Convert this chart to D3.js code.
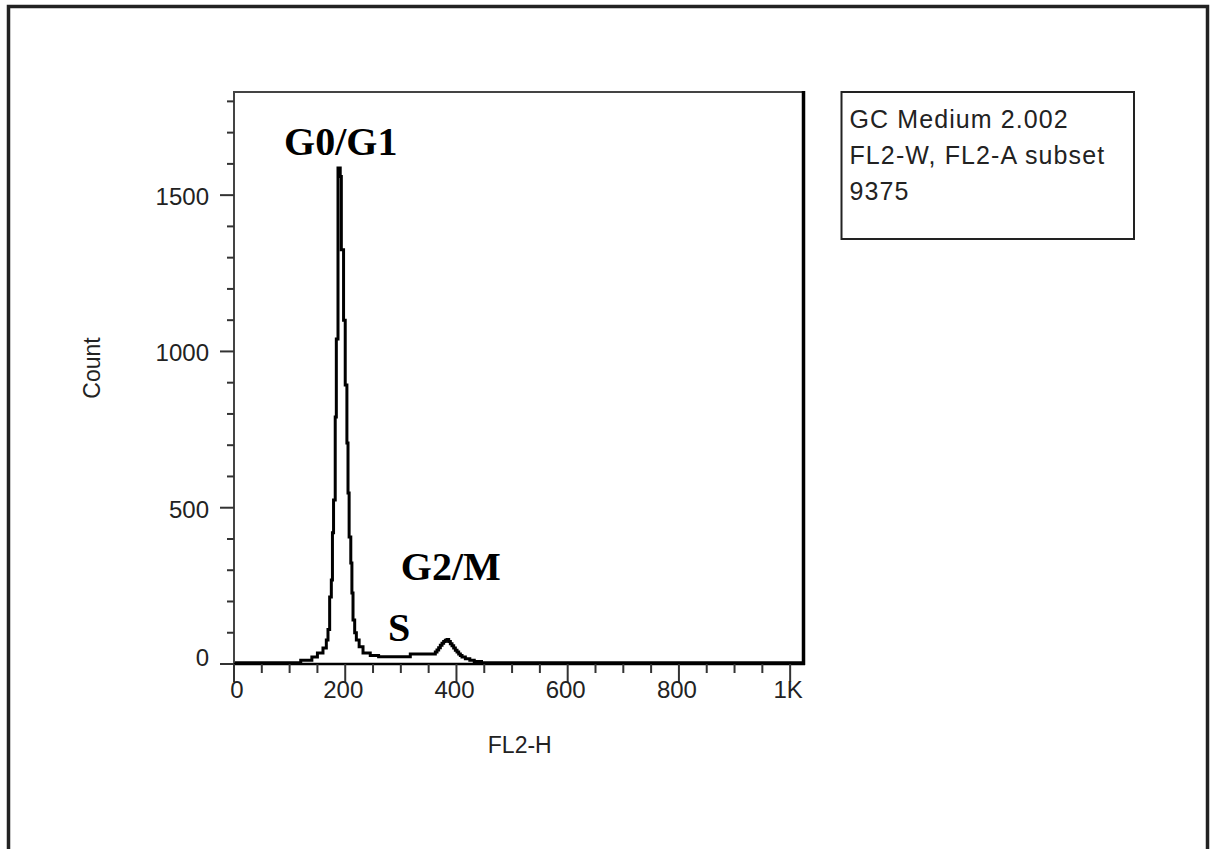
<!DOCTYPE html>
<html>
<head>
<meta charset="utf-8">
<script src="https://cdn.jsdelivr.net/npm/d3@7"></script>
<style>
  html, body { margin: 0; padding: 0; background: #fff; }
  svg { display: block; }
</style>
</head>
<body>
<svg id="chart" width="1214" height="849"></svg>
<script>
// ---- data ----
const channels = [0, 60, 120, 140, 150, 160, 166, 169, 172, 175, 177, 179, 182, 184, 187, 191, 193, 197, 200, 203, 205, 207, 210, 212, 214, 217, 220, 225, 232, 245, 260, 317, 362, 365, 368, 371, 374, 377, 380, 383, 386, 389, 392, 395, 398, 401, 404, 407, 410, 416, 424, 432, 445, 1024];
const counts   = [4, 4, 12, 22, 35, 51, 77, 110, 214, 269, 420, 525, 790, 1040, 1587, 1560, 1325, 1100, 893, 707, 547, 406, 323, 227, 141, 100, 77, 55, 35, 27, 23, 32, 38, 45, 52, 60, 66, 72, 76, 78, 72, 65, 58, 51, 44, 38, 32, 27, 22, 17, 12, 8, 4, 4];
const xMajorTicks = [0, 200, 400, 600, 800, 1000];
const xTickLabels = ["0", "200", "400", "600", "800", "1K"];
const yMajorTicks = [0, 500, 1000, 1500];
const yTickLabels = ["0", "500", "1000", "1500"];
const phaseLabels = ["G0/G1", "S", "G2/M"];
const phaseAnchors = [[90, 1630], [277, 75], [300, 270]]; // [channel, count] of label start / baseline
const legendLines = ["GC Medium 2.002", "FL2-W, FL2-A subset", "9375"];
const xTitle = "FL2-H";
const yTitle = "Count";

// ---- layout ----
const svg = d3.select("#chart");
const plot = { left: 234, right: 803.5, top: 92, bottom: 664 };
const x = d3.scaleLinear().domain([0, 1024]).range([plot.left, plot.right]);
const y = d3.scaleLinear().domain([0, 1830]).range([plot.bottom, plot.top]);
const sans = "'Liberation Sans', Arial, sans-serif";

// outer frame
svg.append("rect")
  .attr("x", 8.5).attr("y", 6.5).attr("width", 1199).attr("height", 900)
  .attr("fill", "none").attr("stroke", "#222").attr("stroke-width", 3.5);

// histogram
const pts = channels.map((c, i) => [c, counts[i]]);
svg.append("path")
  .datum(pts)
  .attr("fill", "none")
  .attr("stroke", "#000")
  .attr("stroke-width", 3)
  .attr("d", d3.line().x(d => x(d[0])).y(d => y(d[1])).curve(d3.curveStepAfter));

// plot box: top & left thin, right & bottom heavy
svg.append("line").attr("x1", plot.left).attr("x2", plot.right).attr("y1", plot.top).attr("y2", plot.top)
  .attr("stroke", "#444").attr("stroke-width", 2);
svg.append("line").attr("x1", plot.left).attr("x2", plot.left).attr("y1", plot.top - 1).attr("y2", plot.bottom)
  .attr("stroke", "#444").attr("stroke-width", 2);
svg.append("line").attr("x1", plot.right).attr("x2", plot.right).attr("y1", plot.top - 1).attr("y2", plot.bottom + 1)
  .attr("stroke", "#000").attr("stroke-width", 3.5);
svg.append("line").attr("x1", plot.left).attr("x2", plot.right + 1.5).attr("y1", plot.bottom).attr("y2", plot.bottom)
  .attr("stroke", "#000").attr("stroke-width", 2.5);

// x axis ticks
const xMinor = d3.range(0, 1001, 50).filter(v => !xMajorTicks.includes(v));
const xAx = svg.append("g");
xAx.selectAll("line.minor").data(xMinor).join("line")
  .attr("x1", d => x(d)).attr("x2", d => x(d))
  .attr("y1", plot.bottom).attr("y2", plot.bottom + 9)
  .attr("stroke", "#333").attr("stroke-width", 2);
xAx.selectAll("line.major").data(xMajorTicks).join("line")
  .attr("x1", d => x(d)).attr("x2", d => x(d))
  .attr("y1", plot.bottom).attr("y2", plot.bottom + 18)
  .attr("stroke", "#333").attr("stroke-width", 2);
xAx.selectAll("text").data(xMajorTicks).join("text")
  .attr("x", d => x(d) - (d === 0 ? -3 : 2)).attr("y", plot.bottom + 34)
  .attr("text-anchor", "middle")
  .attr("font-family", sans).attr("font-size", 24).attr("fill", "#222")
  .text((d, i) => xTickLabels[i]);

// y axis ticks
const yMinor = d3.range(0, 1801, 100).filter(v => !yMajorTicks.includes(v));
const yAx = svg.append("g");
yAx.selectAll("line.minor").data(yMinor).join("line")
  .attr("x1", plot.left - 7).attr("x2", plot.left)
  .attr("y1", d => y(d)).attr("y2", d => y(d))
  .attr("stroke", "#333").attr("stroke-width", 2);
yAx.selectAll("line.major").data(yMajorTicks).join("line")
  .attr("x1", plot.left - 14).attr("x2", plot.left)
  .attr("y1", d => y(d)).attr("y2", d => y(d))
  .attr("stroke", "#333").attr("stroke-width", 2);
yAx.selectAll("text").data(yMajorTicks).join("text")
  .attr("x", plot.left - 25)
  .attr("y", d => y(d) + (d === 0 ? 2 : 10))
  .attr("text-anchor", "end")
  .attr("font-family", sans).attr("font-size", 24).attr("fill", "#222")
  .text((d, i) => yTickLabels[i]);

// axis titles
svg.append("text")
  .attr("x", (plot.left + plot.right) / 2 + 1).attr("y", 753)
  .attr("text-anchor", "middle")
  .attr("font-family", sans).attr("font-size", 23).attr("fill", "#222")
  .text(xTitle);
svg.append("text")
  .attr("transform", `translate(100, ${(plot.top + plot.bottom) / 2 - 10}) rotate(-90)`)
  .attr("text-anchor", "middle")
  .attr("font-family", sans).attr("font-size", 23).attr("fill", "#222")
  .text(yTitle);

// phase annotations
svg.selectAll("text.phase").data(phaseLabels).join("text")
  .attr("class", "phase")
  .attr("x", (d, i) => x(phaseAnchors[i][0]))
  .attr("y", (d, i) => y(phaseAnchors[i][1]))
  .attr("font-family", "'Liberation Serif', 'Times New Roman', serif")
  .attr("font-weight", "bold").attr("font-size", 40).attr("fill", "#000")
  .text(d => d);

// legend box
const lg = { x: 841.5, y: 92, w: 292.5, h: 147 };
svg.append("rect")
  .attr("x", lg.x).attr("y", lg.y).attr("width", lg.w).attr("height", lg.h)
  .attr("fill", "#fff").attr("stroke", "#222").attr("stroke-width", 2);
svg.selectAll("text.leg").data(legendLines).join("text")
  .attr("class", "leg")
  .attr("x", lg.x + 8).attr("y", (d, i) => lg.y + 36 + i * 36)
  .attr("font-family", sans).attr("font-size", 25).attr("letter-spacing", 1.1).attr("fill", "#222")
  .text(d => d);
</script>
</body>
</html>
